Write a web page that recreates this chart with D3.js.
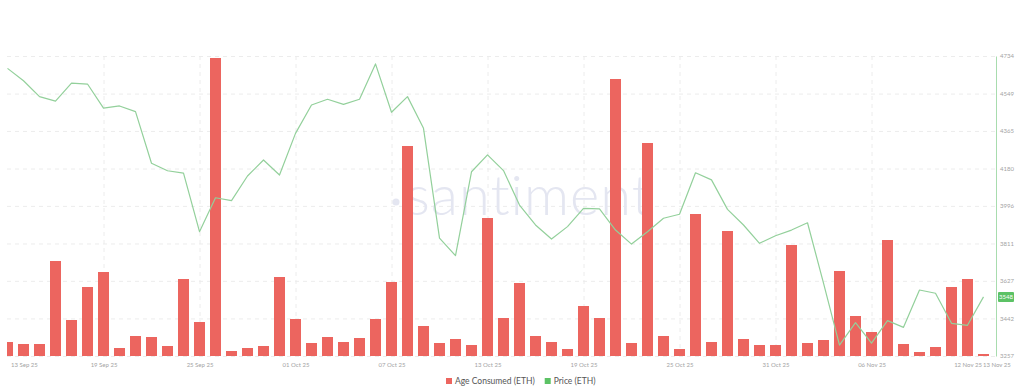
<!DOCTYPE html>
<html lang="en">
<head>
  <meta charset="UTF-8">
  <title>Age Consumed vs Price (ETH)</title>
  <script src="https://d3js.org/d3.v7.min.js"></script>
  <style>
    body {
      margin: 0;
      padding: 0;
      background: #fff;
      font-family: Lato, "Open Sans", sans-serif;
    }
    svg { display: block; background: #fff; }
  </style>
</head>
<body>
  <svg width="1024" height="390"></svg>

  <script>
    // daily categories, 13 Sep 25 -> 13 Nov 25
    const firstDay = "2025-09-13";
    const lastDay = "2025-11-13";

    // Age Consumed (ETH), in billions
    const ageConsumed = [
      1.4, 1.2, 1.2, 9.5, 3.6, 6.9, 8.4, 0.8, 2.0, 1.9,
      1.0, 7.7, 3.4, 29.8, 0.5, 0.8, 1.0, 7.9, 3.7, 1.3,
      1.9, 1.4, 1.8, 3.7, 7.4, 21.0, 3.0, 1.3, 1.7, 1.1,
      13.8, 3.8, 7.3, 2.0, 1.4, 0.7, 5.0, 3.8, 27.7, 1.3,
      21.3, 2.0, 0.7, 14.2, 1.4, 12.5, 1.7, 1.1, 1.1, 11.1,
      1.3, 1.6, 8.5, 4.0, 2.4, 11.6, 1.2, 0.4, 0.9, 6.9,
      7.7, 0.2
    ];

    // Price (ETH) in USD
    const price = [
      4673, 4612, 4534, 4512, 4600, 4596, 4477, 4488, 4460, 4206,
      4169, 4157, 3869, 4036, 4022, 4143, 4222, 4148, 4353, 4493,
      4521, 4496, 4521, 4695, 4457, 4534, 4378, 3837, 3751, 4164,
      4247, 4170, 4000, 3902, 3833, 3894, 3984, 3981, 3877, 3808,
      3869, 3935, 3955, 4159, 4124, 3979, 3902, 3812, 3849, 3877,
      3913, 3616, 3311, 3421, 3320, 3431, 3398, 3582, 3566, 3418,
      3408, 3548
    ];

    const priceTicks = [3257, 3442, 3627, 3811, 3996, 4180, 4365, 4549, 4734];
    const dateTicks = ["2025-09-13", "2025-09-19", "2025-09-25", "2025-10-01", "2025-10-07",
      "2025-10-13", "2025-10-19", "2025-10-25", "2025-10-31", "2025-11-06", "2025-11-12", "2025-11-13"];
    const legendItems = ["Age Consumed (ETH)", "Price (ETH)"];

    const barColor = "#ec655f";
    const lineColor = "#93d09b";
    const priceGreen = "#5cc265";
    const gridColor = "#ececec";

    const svg = d3.select("svg");

    const plot = {left: 7, right: 996, top: 56, bottom: 356};

    const parse = d3.utcParse("%Y-%m-%d");
    const days = d3.utcDay.range(parse(firstDay), d3.utcDay.offset(parse(lastDay), 1));
    const data = days.map((d, i) => ({date: d, age: ageConsumed[i], price: price[i]}));

    const x = d3.scaleUtc()
      .domain([parse(firstDay), parse(lastDay)])
      .range([7.5, 983.5]);

    const yPrice = d3.scaleLinear()
      .domain([priceTicks[0], priceTicks[priceTicks.length - 1]])
      .range([plot.bottom, plot.top]);

    const yAge = d3.scaleLinear()
      .domain([0, 30])
      .range([plot.bottom, plot.top]);

    const barW = 11;

    svg.append("clipPath").attr("id", "clip")
      .append("rect")
      .attr("x", plot.left).attr("y", 0)
      .attr("width", plot.right - plot.left).attr("height", plot.bottom);

    // griglia orizzontale
    svg.append("g")
      .attr("transform", `translate(${plot.left},0)`)
      .call(d3.axisLeft(yPrice).tickValues(priceTicks).tickSize(-(plot.right - plot.left)).tickFormat(""))
      .call(g => g.select(".domain").remove())
      .selectAll("line")
      .attr("stroke", gridColor)
      .attr("stroke-dasharray", "4,4");

    // griglia verticale
    svg.append("g")
      .attr("transform", `translate(0,${plot.bottom})`)
      .call(d3.axisBottom(x).tickValues(dateTicks.slice(1, -2).map(parse)).tickSize(-(plot.bottom - plot.top)).tickFormat(""))
      .call(g => g.select(".domain").remove())
      .selectAll("line")
      .attr("stroke", gridColor)
      .attr("stroke-dasharray", "4,4");

    // watermark
    const wm = svg.append("g").attr("fill", "#e4e6f1");
    wm.append("circle").attr("cx", 396).attr("cy", 202).attr("r", 3.5);
    wm.append("text")
      .attr("x", 529).attr("y", 215)
      .attr("text-anchor", "middle")
      .attr("font-family", "Lato, sans-serif")
      .attr("font-weight", 300)
      .attr("font-size", 56)
      .attr("letter-spacing", 1)
      .text("santiment");

    // barre
    svg.append("g")
      .attr("clip-path", "url(#clip)")
      .selectAll("rect")
      .data(data)
      .join("rect")
      .attr("x", d => x(d.date) - barW / 2)
      .attr("y", d => yAge(d.age))
      .attr("width", barW)
      .attr("height", d => plot.bottom - yAge(d.age))
      .attr("fill", barColor);

    // linea prezzo
    const line = d3.line()
      .x(d => x(d.date))
      .y(d => yPrice(d.price));

    svg.append("path")
      .datum(data)
      .attr("fill", "none")
      .attr("stroke", lineColor)
      .attr("stroke-width", 1.2)
      .attr("stroke-linejoin", "round")
      .attr("d", line);

    // asse destro (prezzo)
    const yAxisG = svg.append("g")
      .attr("transform", `translate(${plot.right},0)`)
      .call(d3.axisRight(yPrice).tickValues(priceTicks).tickSize(0).tickPadding(4).tickFormat(d3.format("d")));
    yAxisG.select(".domain").attr("stroke", "#a8dcae").attr("stroke-width", 1);
    yAxisG.selectAll("text")
      .attr("fill", "#a3a3a3")
      .attr("font-size", 6)
      .attr("font-family", "Lato, sans-serif");

    // etichetta ultimo prezzo
    const last = data[data.length - 1];
    const tag = svg.append("g").attr("transform", `translate(${plot.right + 2},${yPrice(last.price)})`);
    tag.append("rect")
      .attr("x", 0).attr("y", -5)
      .attr("width", 16).attr("height", 10)
      .attr("rx", 1)
      .attr("fill", priceGreen);
    tag.append("text")
      .attr("x", 8).attr("y", 2.2)
      .attr("text-anchor", "middle")
      .attr("fill", "#fff")
      .attr("font-size", 6)
      .attr("font-family", "Lato, sans-serif")
      .text(d3.format("d")(last.price));

    // asse x (date)
    const xAxisG = svg.append("g")
      .attr("transform", `translate(0,${plot.bottom})`)
      .call(d3.axisBottom(x).tickValues(dateTicks.map(parse)).tickSize(0).tickPadding(7)
        .tickFormat(d3.utcFormat("%d %b %y")));
    xAxisG.select(".domain").remove();
    xAxisG.selectAll("text")
      .attr("fill", "#a3a3a3")
      .attr("font-size", 6)
      .attr("font-family", "Lato, sans-serif");
    const xLabels = xAxisG.selectAll(".tick text").nodes();
    d3.select(xLabels[0]).attr("text-anchor", "start").attr("dx", 3);
    d3.select(xLabels[xLabels.length - 1]).attr("text-anchor", "start").attr("dx", -1);

    // legenda
    const legend = svg.append("g").attr("transform", "translate(446,381)");
    const legendColors = [barColor, priceGreen];
    let lx = 0;
    legendItems.forEach((name, i) => {
      const item = legend.append("g").attr("transform", `translate(${lx},0)`);
      item.append("rect").attr("x", 0).attr("y", -3).attr("width", 6).attr("height", 6).attr("fill", legendColors[i]);
      const t = item.append("text")
        .attr("x", 9).attr("y", 3.2)
        .attr("fill", "#555")
        .attr("font-size", 8.5)
        .attr("font-family", "Lato, sans-serif")
        .text(name);
      lx += 9 + t.node().getComputedTextLength() + 10;
    });
  </script>
</body>
</html>
